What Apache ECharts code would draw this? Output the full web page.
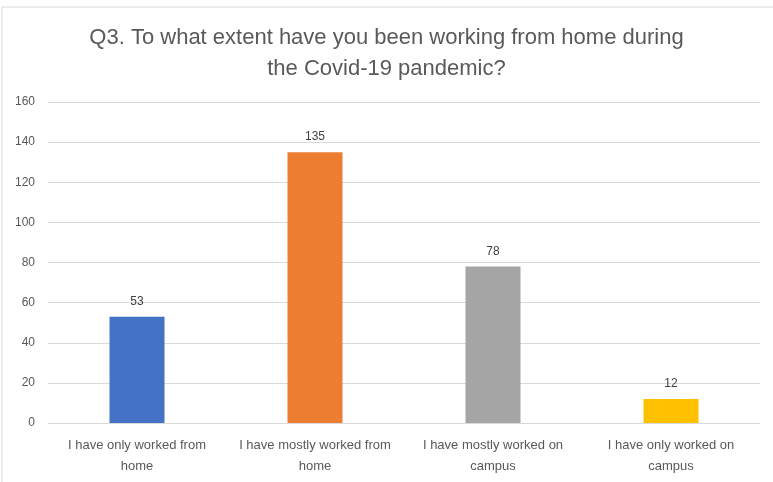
<!DOCTYPE html>
<html>
<head>
<meta charset="utf-8">
<script src="https://cdn.jsdelivr.net/npm/echarts@6/dist/echarts.min.js"></script>
<style>
  html, body { margin: 0; padding: 0; background: #ffffff; }
  #chart { width: 773px; height: 482px; }
</style>
</head>
<body>
<div id="chart"></div>
<script>
// Survey responses: extent of working from home during the pandemic
const categories = [
  'I have only worked from\nhome',
  'I have mostly worked from\nhome',
  'I have mostly worked on\ncampus',
  'I have only worked on\ncampus'
];
const counts = [53, 135, 78, 12];
const barColors = ['#4472C4', '#ED7D31', '#A5A5A5', '#FFC000'];
const yTicks = [0, 20, 40, 60, 80, 100, 120, 140, 160];

const font = '"Liberation Sans", Arial, sans-serif';
const chart = echarts.init(document.getElementById('chart'), null, { renderer: 'canvas' });

chart.setOption({
  backgroundColor: '#ffffff',
  animation: false,
  title: {
    text: 'Q3. To what extent have you been working from home during\nthe Covid-19 pandemic?',
    left: 'center',
    top: 17,
    textStyle: {
      fontFamily: font,
      fontWeight: 'normal',
      fontSize: 22,
      lineHeight: 31,
      color: '#595959'
    }
  },
  graphic: [{
    type: 'rect',
    shape: { x: 2, y: 7, width: 800, height: 500 },
    style: { fill: 'none', stroke: '#d9d9d9', lineWidth: 1 },
    silent: true
  }],
  grid: { left: 48, right: 13, top: 102, bottom: 59 },
  xAxis: {
    type: 'category',
    data: categories,
    axisLine: { lineStyle: { color: '#d9d9d9' } },
    axisTick: { show: false },
    axisLabel: {
      interval: 0,
      margin: 12,
      fontFamily: font,
      fontSize: 13,
      lineHeight: 21,
      color: '#595959'
    }
  },
  yAxis: {
    type: 'value',
    min: yTicks[0],
    max: yTicks[yTicks.length - 1],
    interval: yTicks[1] - yTicks[0],
    axisLine: { show: false },
    axisTick: { show: false },
    splitLine: { lineStyle: { color: '#d9d9d9' } },
    axisLabel: {
      margin: 13,
      fontFamily: font,
      fontSize: 12,
      color: '#595959'
    }
  },
  series: [{
    type: 'bar',
    data: counts.map((v, i) => ({ value: v, itemStyle: { color: barColors[i] } })),
    barWidth: 55,
    label: {
      show: true,
      position: 'top',
      distance: 9,
      fontFamily: font,
      fontSize: 12,
      color: '#404040'
    }
  }]
});
</script>
</body>
</html>
